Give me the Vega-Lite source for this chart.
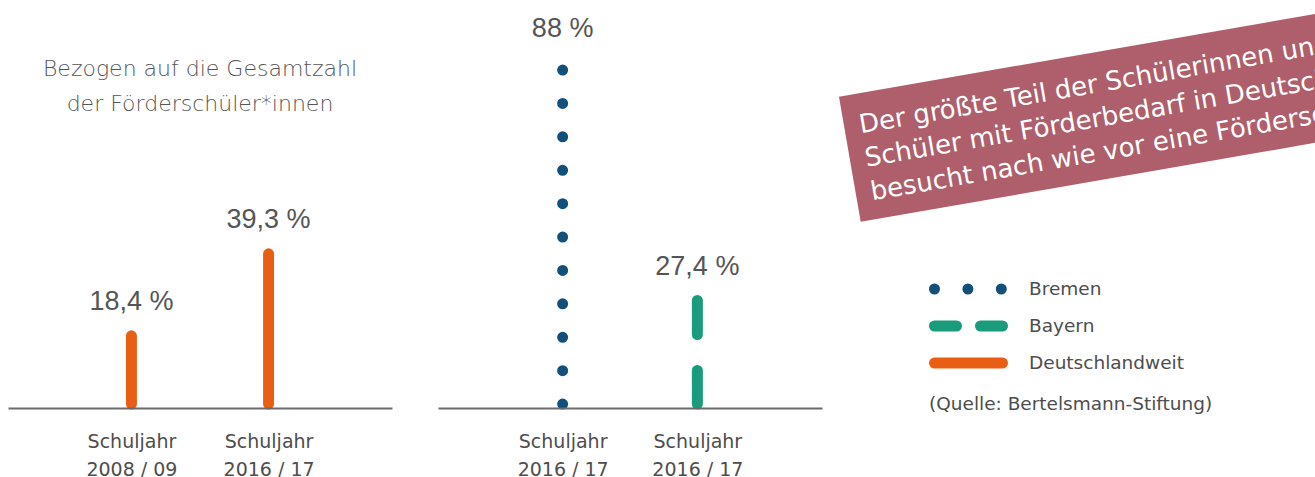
{
  "$schema": "https://vega.github.io/schema/vega-lite/v6.json",
  "padding": {"left": 8, "top": 0, "right": 0, "bottom": 0},
  "background": "white",
  "config": {"view": {"stroke": null}, "font": "DejaVu Sans"},
  "datasets": {
    "werte": [
      {"panel": "gesamt", "series": "Deutschlandweit", "jahr": "2008 / 09", "value": 18.4, "label": "18,4 %"},
      {"panel": "gesamt", "series": "Deutschlandweit", "jahr": "2016 / 17", "value": 39.3, "label": "39,3 %"},
      {"panel": "laender", "series": "Bremen", "jahr": "2016 / 17", "value": 88, "label": "88 %"},
      {"panel": "laender", "series": "Bayern", "jahr": "2016 / 17", "value": 27.4, "label": "27,4 %"}
    ]
  },
  "spacing": 8,
  "hconcat": [
    {
      "spacing": 46,
      "hconcat": [
        {
          "width": 384,
          "height": 408,
          "title": {
            "text": ["Bezogen auf die Gesamtzahl", "der Förderschüler*innen"],
            "anchor": "middle",
            "frame": "group",
            "offset": -133,
            "baseline": "alphabetic",
            "font": "DejaVu Sans",
            "fontSize": 22,
            "fontWeight": 200,
            "color": "#555555",
            "lineHeight": 35
          },
          "data": {"name": "werte"},
          "transform": [{"filter": "datum.panel === 'gesamt'"}],
          "encoding": {
            "x": {
              "field": "jahr",
              "type": "nominal",
              "sort": null,
              "scale": {"type": "point", "padding": 0.9},
              "axis": {
                "title": null,
                "labelExpr": "['Schuljahr', datum.value]",
                "labelAngle": 0,
                "ticks": false,
                "tickSize": 0,
                "labelPadding": 24,
                "labelFont": "DejaVu Sans",
                "labelFontSize": 19,
                "labelColor": "#4d4d4d",
                "labelLineHeight": 28,
                "labelOverlap": false,
                "domainColor": "#6b6b6b",
                "domainWidth": 2,
                "grid": false,
                "zindex": 1
              }
            }
          },
          "layer": [
            {
              "mark": {"type": "rule", "strokeWidth": 11, "strokeCap": "round"},
              "encoding": {
                "y": {"field": "value", "type": "quantitative", "scale": {"domain": [0, 104], "nice": false}, "axis": null},
                "y2": {"datum": 1},
                "color": {
                  "field": "series",
                  "type": "nominal",
                  "scale": {"domain": ["Bremen", "Bayern", "Deutschlandweit"], "range": ["#12507b", "#199b7c", "#e95e15"]},
                  "legend": {
                    "orient": "none",
                    "legendX": 921,
                    "legendY": 276,
                    "title": "(Quelle: Bertelsmann-Stiftung)",
                    "titleOrient": "bottom",
                    "titleAnchor": "start",
                    "titleFont": "DejaVu Sans",
                    "titleFontSize": 18.5,
                    "titleFontWeight": "normal",
                    "titleColor": "#4d4d4d",
                    "titlePadding": 19,
                    "titleLimit": 420,
                    "symbolType": "stroke",
                    "symbolSize": 4624,
                    "symbolStrokeWidth": 11,
                    "clipHeight": 26,
                    "rowPadding": 11,
                    "labelOffset": 21,
                    "labelFont": "DejaVu Sans",
                    "labelFontSize": 18.5,
                    "labelColor": "#4d4d4d",
                    "labelLimit": 300,
                    "encoding": {
                      "symbols": {
                        "strokeCap": {"value": "round"},
                        "strokeDash": {
                          "condition": [
                            {"test": "datum.value === 'Bremen'", "value": [0, 33.4]},
                            {"test": "datum.value === 'Bayern'", "value": [22, 24]}
                          ],
                          "value": [200, 0]
                        }
                      }
                    }
                  }
                }
              }
            },
            {
              "mark": {"type": "text", "font": "Liberation Sans", "fontSize": 27, "color": "#555555", "baseline": "alphabetic", "dy": -26},
              "encoding": {
                "y": {"field": "value", "type": "quantitative", "scale": {"domain": [0, 104], "nice": false}, "axis": null},
                "text": {"field": "label"}
              }
            }
          ]
        },
        {
          "width": 384,
          "height": 408,
          "data": {"name": "werte"},
          "transform": [{"filter": "datum.panel === 'laender'"}],
          "encoding": {
            "x": {
              "field": "series",
              "type": "nominal",
              "sort": ["Bremen", "Bayern"],
              "scale": {"type": "point", "padding": 0.925},
              "axis": {
                "title": null,
                "labelExpr": "['Schuljahr', '2016 / 17']",
                "labelAngle": 0,
                "ticks": false,
                "tickSize": 0,
                "labelPadding": 24,
                "labelFont": "DejaVu Sans",
                "labelFontSize": 19,
                "labelColor": "#4d4d4d",
                "labelLineHeight": 28,
                "labelOverlap": false,
                "domainColor": "#6b6b6b",
                "domainWidth": 2,
                "grid": false,
                "zindex": 1
              }
            }
          },
          "layer": [
            {
              "transform": [{"filter": "datum.series === 'Bremen'"}],
              "mark": {"type": "rule", "strokeWidth": 11, "strokeCap": "round", "strokeDash": [0, 33.4], "strokeDashOffset": 26.1},
              "encoding": {
                "y": {"field": "value", "type": "quantitative", "scale": {"domain": [0, 104], "nice": false}, "axis": null},
                "y2": {"datum": 1},
                "color": {"field": "series", "type": "nominal"}
              }
            },
            {
              "transform": [{"filter": "datum.series === 'Bayern'"}],
              "mark": {"type": "rule", "strokeWidth": 11, "strokeCap": "round", "strokeDash": [34, 36]},
              "encoding": {
                "y": {"field": "value", "type": "quantitative", "scale": {"domain": [0, 104], "nice": false}, "axis": null},
                "y2": {"datum": 1},
                "color": {"field": "series", "type": "nominal"}
              }
            },
            {
              "mark": {"type": "text", "font": "Liberation Sans", "fontSize": 27, "color": "#555555", "baseline": "alphabetic", "dy": -26},
              "encoding": {
                "y": {"field": "value", "type": "quantitative", "scale": {"domain": [0, 104], "nice": false}, "axis": null},
                "text": {"field": "label"}
              }
            }
          ]
        }
      ]
    },
    {
      "width": 485,
      "height": 408,
      "data": {"values": [{}]},
      "layer": [
        {
          "mark": {"type": "rule", "color": "#ae5f6b", "strokeWidth": 127, "strokeCap": "butt", "clip": true},
          "encoding": {
            "x": {"datum": 4.09, "type": "quantitative", "scale": {"domain": [0, 100], "nice": false, "zero": false}, "axis": null},
            "x2": {"datum": 106.19},
            "y": {"datum": 60.98, "type": "quantitative", "scale": {"domain": [0, 100], "nice": false, "zero": false}, "axis": null},
            "y2": {"datum": 82.06}
          }
        },
        {
          "mark": {
            "type": "text",
            "text": ["Der größte Teil der Schülerinnen und", "Schüler mit Förderbedarf in Deutschland", "besucht nach wie vor eine Förderschule"],
            "angle": 350.2,
            "align": "left",
            "baseline": "alphabetic",
            "font": "DejaVu Sans",
            "fontSize": 26,
            "lineHeight": 34,
            "color": "#ffffff",
            "clip": true
          },
          "encoding": {
            "x": {"datum": 6.33, "type": "quantitative", "scale": {"domain": [0, 100], "nice": false, "zero": false}, "axis": null},
            "y": {"datum": 67.33, "type": "quantitative", "scale": {"domain": [0, 100], "nice": false, "zero": false}, "axis": null}
          }
        }
      ]
    }
  ],
  "resolve": {"scale": {"x": "independent", "y": "independent"}}
}
